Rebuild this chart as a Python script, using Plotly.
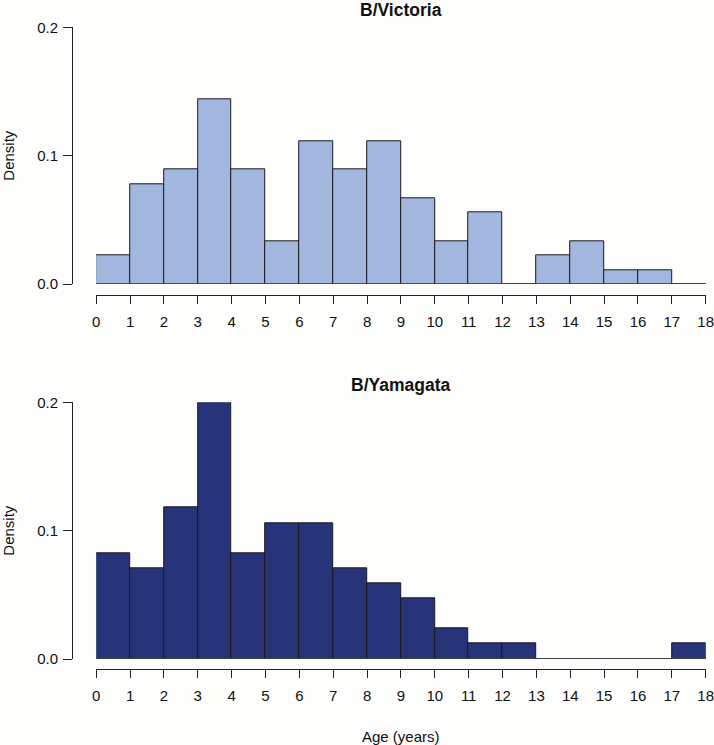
import plotly.graph_objects as go

# Bin edges (age in years) and densities
bin_edges = list(range(0, 19))
victoria_density = [0.022, 0.078, 0.089, 0.144, 0.089, 0.033, 0.111, 0.089, 0.111,
                    0.067, 0.033, 0.056, 0.0, 0.022, 0.033, 0.011, 0.011, 0.0]
yamagata_density = [0.082, 0.071, 0.118, 0.200, 0.082, 0.106, 0.106, 0.071, 0.059,
                    0.047, 0.024, 0.012, 0.012, 0.0, 0.0, 0.0, 0.0, 0.012]
x_ticks = list(range(0, 19))
y_ticks = [0.0, 0.1, 0.2]
y_tick_labels = ["0.0", "0.1", "0.2"]
titles = ["B/Victoria", "B/Yamagata"]
colors = ["#a3b7de", "#27347a"]

W, H = 714, 745
FONT = "Liberation Sans, Arial, Helvetica, sans-serif"

mids = [(bin_edges[i] + bin_edges[i + 1]) / 2 for i in range(len(bin_edges) - 1)]

fig = go.Figure()

def py(p):  # pixel y (from top) -> paper fraction
    return 1 - p / H

def px(p):  # pixel x -> paper fraction
    return p / W

x_dom = [px(96.2), px(705.7)]
panels = [
    dict(data=victoria_density, y0=284.0, y2=27.3, xline=294.7, title_y=10),
    dict(data=yamagata_density, y0=659.0, y2=402.3, xline=669.3, title_y=385),
]

for i, p in enumerate(panels):
    xa = "x" if i == 0 else "x2"
    ya = "y" if i == 0 else "y2"
    fig.add_trace(go.Scatter(
        x=[bin_edges[0], bin_edges[-1]], y=[0, 0], mode="lines",
        line=dict(color="#555555", width=1), xaxis=xa, yaxis=ya,
        showlegend=False, hoverinfo="skip", cliponaxis=False))
    fig.add_trace(go.Bar(
        x=mids, y=p["data"], width=1,
        marker=dict(color=colors[i], line=dict(color="#1a1a1a", width=1)),
        xaxis=xa, yaxis=ya, showlegend=False, cliponaxis=False))

    xkey = "xaxis" if i == 0 else "xaxis2"
    ykey = "yaxis" if i == 0 else "yaxis2"
    fig.update_layout(**{
        xkey: dict(
            domain=x_dom, range=[0, 18], anchor="free", position=py(p["xline"]),
            showline=True, linecolor="#222222", linewidth=1,
            ticks="outside", ticklen=8, tickwidth=1, tickcolor="#222222",
            tickvals=x_ticks, ticktext=[str(v) for v in x_ticks],
            showgrid=False, zeroline=False, automargin=False,
            tickfont=dict(family=FONT, size=15, color="#111111"),
            ticklabelstandoff=5, ticklabeloverflow="allow",
        ),
        ykey: dict(
            domain=[py(p["y0"]), py(p["y2"])], range=[0, 0.2],
            anchor="free", position=px(72),
            showline=True, linecolor="#222222", linewidth=1,
            ticks="outside", ticklen=9, tickwidth=1, tickcolor="#222222",
            tickvals=y_ticks, ticktext=y_tick_labels,
            showgrid=False, zeroline=False, automargin=False,
            tickfont=dict(family=FONT, size=15, color="#111111"),
            ticklabelstandoff=2, ticklabeloverflow="allow",
        ),
    })

    fig.add_annotation(text="<b>" + titles[i] + "</b>", x=px(400.8), y=py(p["title_y"]),
                       xref="paper", yref="paper", showarrow=False,
                       xanchor="center", yanchor="middle",
                       font=dict(family=FONT, size=17.5, color="#111111"))
    fig.add_annotation(text="Density", x=px(9), y=py((p["y0"] + p["y2"]) / 2),
                       xref="paper", yref="paper", showarrow=False, textangle=-90,
                       xanchor="center", yanchor="middle",
                       font=dict(family=FONT, size=15, color="#111111"))

fig.add_annotation(text="Age (years)", x=px(400.8), y=py(736),
                   xref="paper", yref="paper", showarrow=False,
                   xanchor="center", yanchor="middle",
                   font=dict(family=FONT, size=15, color="#111111"))

fig.update_layout(
    width=W, height=H,
    margin=dict(l=0, r=0, t=0, b=0, autoexpand=False),
    paper_bgcolor="#fdfdfb", plot_bgcolor="#fdfdfb",
    bargap=0,
)

# Remove the browser's default 8px body margin so the figure fills the window.
fig.write_html("out.html",
               config={"displayModeBar": False},
               post_script="document.body.style.margin='0px';"
                           "document.body.style.overflow='hidden';")
